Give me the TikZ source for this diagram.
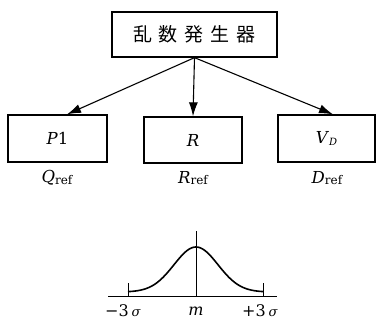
\documentclass[tikz,border=0pt]{standalone}
\usepackage{fontspec}
\usetikzlibrary{arrows.meta,calc}
\newfontfamily\cjk{Noto Sans CJK JP}
\newfontfamily\dvs{DejaVu Serif}
\newcommand{\refsub}{\raisebox{-1.2pt}{\fontsize{12}{12}\selectfont ref}}
\begin{document}
\begin{tikzpicture}[x=1pt,y=-1pt,
  box/.style={draw,line width=1.3pt,inner sep=0pt,font=\fontsize{16.5}{16.5}\dvs},
  arr/.style={line width=1.1pt,-{Latex[length=14pt,width=9pt]}},
  lab/.style={inner sep=0pt,font=\fontsize{16.5}{16.5}\dvs},
  axis/.style={inner sep=0pt,font=\fontsize{16}{16}\dvs},
  thin/.style={line width=0.8pt}]
\useasboundingbox (0,0) rectangle (376,325);
\node[box,minimum width=165pt,minimum height=45pt] (top) at (194.5,34.5)
  {\fontsize{19}{19}\cjk 乱\hspace{7pt}数\hspace{7pt}発\hspace{7pt}生\hspace{7pt}器};
\node[box,minimum width=99pt,minimum height=47pt] (p1) at (57.5,138.5) {\textit{P}1};
\node[box,minimum width=98pt,minimum height=46pt] (r) at (193,140) {\textit{R}};
\node[box,minimum width=97pt,minimum height=47pt] (vd) at (326.5,138.5) {\textit{V}\raisebox{-1.5pt}{\fontsize{10}{10}\selectfont\textit{D}}};
\draw[arr] (top.south) -- ([xshift=9.5pt]p1.north);
\draw[arr] (top.south) -- (r.north);
\draw[arr] (top.south) -- ([xshift=6.5pt]vd.north);
\node[lab] (qref) at (57,178) {\textit{Q}\refsub};
\node[lab] (rref) at (193,178) {\textit{R}\refsub};
\node[lab] (dref) at (327,178) {\textit{D}\refsub};
% bell curve
\coordinate (bl) at (108,296);
\coordinate (br) at (277,296);
\coordinate (mt) at (196,231);
\coordinate (mb) at (196,296);
\coordinate (lt) at (128,283);
\coordinate (lb) at (128,296);
\coordinate (rt) at (263,283);
\coordinate (rb) at (263,296);
\draw[thin] (bl) -- (br);
\draw[thin] (mt) -- (mb);
\draw[thin] (lt) -- (lb);
\draw[thin] (rt) -- (rb);
\draw[line width=1.6pt,domain=128:263,samples=90,smooth] plot (\x,{292-45*exp(-((\x-196)^2)/(2*22^2))});
\node[axis] (m3) at (123,311) {−3\hspace{3pt}{\fontsize{13}{13}\selectfont\textit{σ}}};
\node[axis] (mm) at (196,311) {\textit{m}};
\node[axis] (p3) at (260,311) {+3\hspace{3pt}{\fontsize{13}{13}\selectfont\textit{σ}}};
\end{tikzpicture}
\end{document}
